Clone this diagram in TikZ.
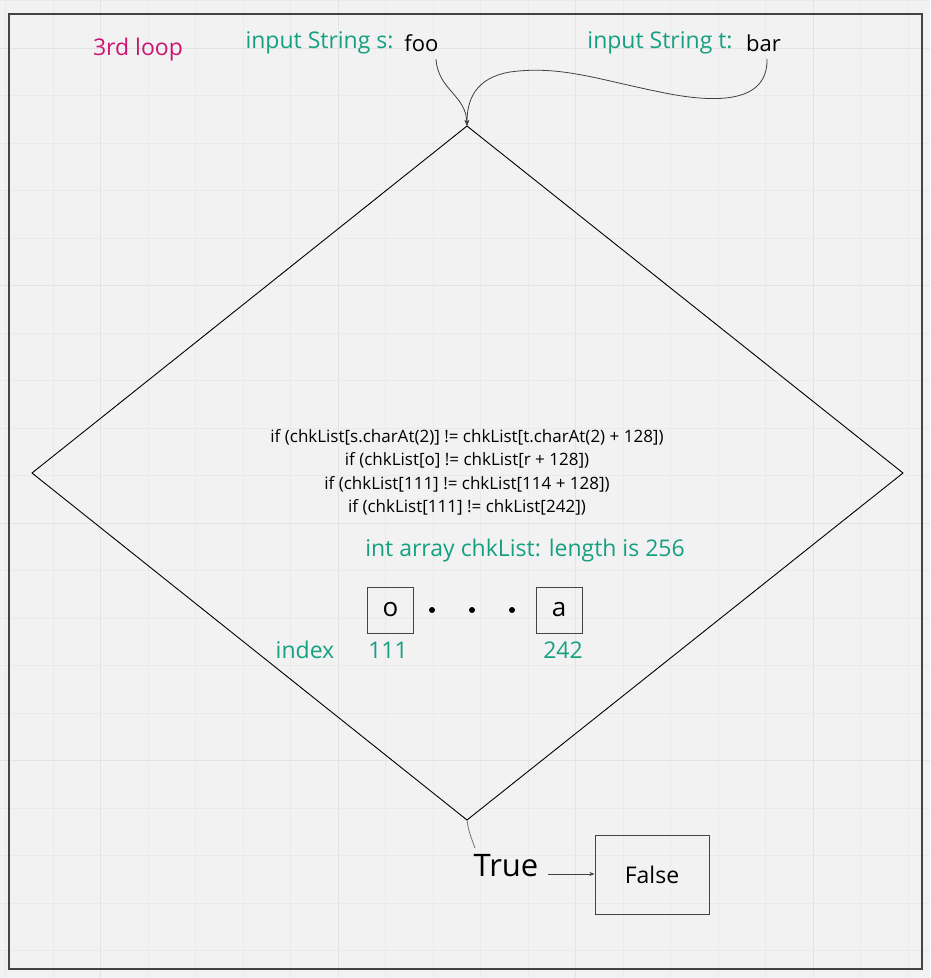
\documentclass[tikz,border=0pt]{standalone}
\usepackage{fontspec}
\setmainfont{Open Sans}
\usetikzlibrary{arrows.meta}
\definecolor{bgc}{HTML}{F2F2F2}
\definecolor{gridminor}{HTML}{EAEAEA}
\definecolor{gridmajor}{HTML}{E3E3E3}
\definecolor{teal}{HTML}{16A082}
\definecolor{mag}{HTML}{CC1472}
\definecolor{frame}{HTML}{444444}
\tikzset{
  lbl/.style={inner sep=0pt, anchor=center},
  teallbl/.style={lbl, text=teal, font=\fontsize{23}{27}\selectfont},
  blacklbl/.style={lbl, text=black, font=\fontsize{22}{26}\selectfont},
  codelbl/.style={lbl, text=black, font=\fontsize{17}{20}\selectfont},
  cellbox/.style={draw=frame, line width=1pt, minimum width=46pt, minimum height=46pt, inner sep=0pt, font=\fontsize{26}{30}\selectfont},
  dotnode/.style={circle, fill=black, inner sep=0pt, minimum size=6pt},
  conn/.style={draw=black!75, line width=0.8pt},
  tip/.style={-{Stealth[length=6pt,width=4.5pt]}}
}
\begin{document}
\begin{tikzpicture}[x=1pt,y=-1pt]
\useasboundingbox (0,0) rectangle (930,978);
\fill[bgc] (0,0) rectangle (930,978);
% grid
\foreach \gx in {5.5,53,148,195.5,243,290.5,385.5,433,480.5,528,623,670.5,718,765.5,860.5,908}
  \draw[gridminor, line width=0.5pt] (\gx,0) -- (\gx,978);
\foreach \gx in {100.5,338,575.5,813}
  \draw[gridmajor, line width=0.7pt] (\gx,0) -- (\gx,978);
\foreach \gy in {0.5,95.5,143,190.5,238,333,380.5,428,475.5,570.5,618,665.5,713,808,855.5,903,950.5}
  \draw[gridminor, line width=0.5pt] (0,\gy) -- (930,\gy);
\foreach \gy in {48,285.5,523,760.5}
  \draw[gridmajor, line width=0.7pt] (0,\gy) -- (930,\gy);
% frame
\draw[frame, line width=1.6pt] (9,14) rectangle (922,969);

% header labels
\node[lbl, text=mag, font=\fontsize{23}{27}\selectfont] (loop) at (138,50) {3rd loop};
\node[teallbl] (slbl) at (319.5,43) {input String s:};
\node[blacklbl] (foo) at (421.5,43) {foo};
\node[teallbl] (tlbl) at (660,43) {input String t:};
\node[blacklbl] (bar) at (763.5,43) {bar};

% diamond
\coordinate (dtop) at (467,126);
\coordinate (dleft) at (32,473);
\coordinate (dright) at (903,473);
\coordinate (dbot) at (467,820);
\draw[black, line width=0.9pt] (dtop) -- (dright) -- (dbot) -- (dleft) -- cycle;

% input connectors
\coordinate (fooend) at (436,59);
\coordinate (barend) at (767,59);
\draw[conn, tip] (fooend) .. controls (438,90) and (466,95) .. (dtop);
\draw[conn, tip] (barend) .. controls (768,105) and (712,103) .. (660,92)
   .. controls (600,80) and (560,65) .. (510,72)
   .. controls (475,78) and (467,100) .. (dtop);

% code lines
\node[codelbl] (c1) at (467,437) {if (chkList[s.charAt(2)] != chkList[t.charAt(2) + 128])};
\node[codelbl] (c2) at (467,460) {if (chkList[o] != chkList[r + 128])};
\node[codelbl] (c3) at (467,484) {if (chkList[111] != chkList[114 + 128])};
\node[codelbl] (c4) at (467,507) {if (chkList[111] != chkList[242])};

% array
\node[teallbl] (arr) at (525,551) {int array chkList: length is 256};
\node[cellbox] (cello) at (390.5,610) {o};
\node[cellbox] (cella) at (559,610) {a};
\node[dotnode] (d1) at (432,610) {};
\node[dotnode] (d2) at (472,610) {};
\node[dotnode] (d3) at (512,610) {};
\node[teallbl] (idx) at (305,650) {index};
\node[teallbl] (i111) at (388,650) {111};
\node[teallbl] (i242) at (563,650) {242};

% bottom
\node[lbl, font=\fontsize{31}{36}\selectfont] (true) at (506,866) {True};
\node[draw=frame, line width=1pt, minimum width=114pt, minimum height=79pt, inner sep=0pt, font=\fontsize{23}{28}\selectfont] (false) at (652,874.5) {False};
\draw[draw=black!55, line width=0.8pt] (dbot) .. controls (468,830) and (472,840) .. (475,848);
\coordinate (trueout) at (548,874);
\draw[conn, -{Stealth[length=5pt,width=4pt]}] (trueout) -- (false.west |- trueout);
\end{tikzpicture}
\end{document}
